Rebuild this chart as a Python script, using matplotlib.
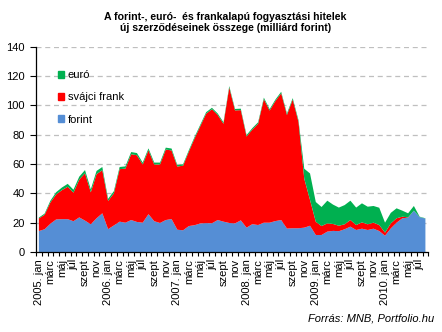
import numpy as np
import matplotlib.pyplot as plt
from matplotlib.patches import Patch

plt.rcParams['font.family'] = ['Liberation Sans', 'DejaVu Sans']

# havi adatok, 2005. jan - 2010. aug (milliárd forint)
years = [2005, 2006, 2007, 2008, 2009, 2010]
month_names = ['jan', 'febr', 'márc', 'ápr', 'máj', 'jún', 'júl', 'aug', 'szept', 'okt', 'nov', 'dec']

forint = [14.3, 15.5, 19.3, 22.2, 22.4, 22.4, 21.0, 23.6, 21.4, 18.9, 23.0, 26.4,
          15.6, 18.1, 20.7, 20.0, 21.8, 20.5, 20.0, 25.8, 21.0, 19.8, 21.8, 22.5,
          15.2, 14.8, 17.7, 18.3, 19.5, 19.7, 19.6, 21.8, 20.7, 19.8, 19.5, 21.6,
          16.6, 19.0, 18.4, 20.0, 20.0, 21.1, 21.8, 16.0, 16.2, 16.2, 16.6, 17.9,
          11.6, 11.6, 13.9, 14.4, 14.2, 15.5, 17.3, 15.0, 15.9, 15.0, 15.9, 14.3,
          11.1, 16.1, 20.0, 23.0, 23.4, 28.2, 23.8, 22.8]
svajci_frank = [8.6, 9.9, 14.5, 17.1, 19.8, 22.1, 19.5, 25.8, 32.3, 21.8, 30.1, 29.4,
                19.2, 21.9, 35.8, 36.9, 44.9, 45.5, 39.7, 43.6, 38.7, 39.9, 48.1, 46.8,
                43.1, 44.1, 50.8, 59.3, 66.5, 74.7, 77.8, 71.7, 66.8, 92.4, 77.1, 75.2,
                62.2, 64.5, 69.1, 84.3, 76.5, 81.9, 86.5, 77.5, 87.8, 72.6, 33.4, 17.6,
                9.0, 6.1, 5.6, 4.7, 3.7, 3.4, 4.5, 3.4, 4.3, 3.9, 4.1, 4.1,
                2.1, 3.4, 3.0, 1.1, 0.2, 0.0, 0.0, 0.0]
euro = [0.6, 0.8, 1.2, 1.5, 1.8, 2.0, 2.0, 2.0, 2.2, 2.0, 2.2, 2.2,
        1.5, 1.5, 1.5, 1.5, 1.5, 1.5, 1.3, 1.3, 1.3, 1.3, 1.3, 1.3,
        1.0, 1.0, 1.0, 1.0, 1.0, 1.0, 1.0, 1.0, 1.0, 1.0, 1.0, 1.0,
        1.0, 1.0, 1.0, 1.0, 1.0, 1.0, 1.0, 1.0, 1.0, 1.2, 6.8, 18.1,
        13.5, 13.0, 15.5, 13.2, 12.4, 13.1, 13.2, 11.9, 13.0, 12.0, 11.4, 11.8,
        6.8, 7.2, 6.8, 4.1, 2.8, 3.2, 0.3, 0.2]

n = len(forint)
x = np.arange(n)
labels = []
for i in range(0, n, 2):
    m = month_names[i % 12]
    labels.append(f'{years[i // 12]}. {m}' if i % 12 == 0 else m)

fig = plt.figure(figsize=(4.42, 3.32), dpi=100)
ax = fig.add_axes([0.0814, 0.241, 0.8876, 0.618])

ax.stackplot(x, forint, svajci_frank, euro,
             colors=['#558ED5', '#FF0000', '#00B050'], linewidth=0)

ax.set_xlim(-0.5, n - 0.5)
ax.set_ylim(0, 140)
ax.set_yticks(range(0, 141, 20))
ax.yaxis.grid(True, linestyle=(0, (4, 3)), color='#BFBFBF', linewidth=0.9)
ax.set_axisbelow(True)

ax.set_xticks(x[::2])
ax.set_xticklabels(labels, rotation=90, fontsize=8)
ax.set_xticks(np.arange(-0.5, n, 1), minor=True)
ax.tick_params(axis='x', which='major', length=0, pad=5)
ax.tick_params(axis='x', which='minor', length=3, width=0.8, direction='out')
ax.tick_params(axis='y', length=4, width=0.8, labelsize=8, pad=4)

for s in ['top', 'right']:
    ax.spines[s].set_visible(False)
for s in ['left', 'bottom']:
    ax.spines[s].set_linewidth(0.9)
    ax.spines[s].set_color('black')

handles = [Patch(color='#00B050'), Patch(color='#FF0000'), Patch(color='#558ED5')]
ax.legend(handles, ['euró', 'svájci frank', 'forint'], loc='upper left',
          bbox_to_anchor=(0.03, 0.935), frameon=False, fontsize=8,
          handlelength=0.6, handleheight=0.6, handletextpad=0.3, labelspacing=1.1)

fig.text(0.51, 0.932, 'A forint-, euró-  és frankalapú fogyasztási hitelek\n'
         'új szerződéseinek összege (milliárd forint)',
         ha='center', va='center', fontsize=7.6, fontweight='bold', linespacing=1.2)
fig.text(0.982, 0.04, 'Forrás: MNB, Portfolio.hu', ha='right', va='center',
         fontsize=8, style='italic')

fig.savefig('out.png', dpi=100)
